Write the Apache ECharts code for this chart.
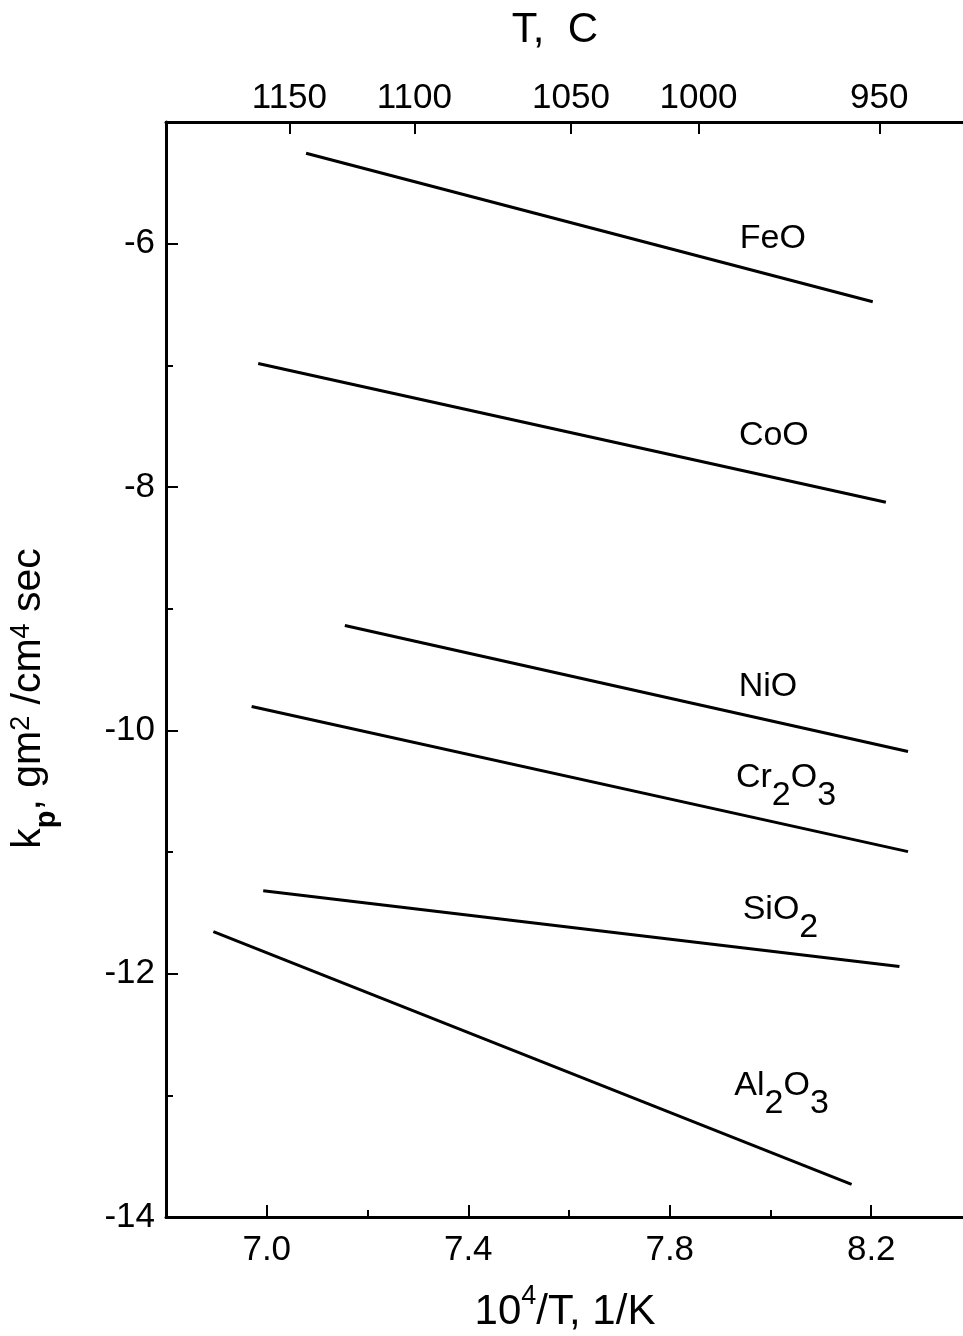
<!DOCTYPE html>
<html>
<head>
<meta charset="utf-8">
<script src="https://cdn.jsdelivr.net/npm/echarts@6/dist/echarts.min.js"></script>
<style>
  html, body { margin: 0; padding: 0; background: #fff; }
  #chart { width: 963px; height: 1336px; }
</style>
</head>
<body>
<div id="chart"></div>
<script>
// Parabolic rate constants of oxide scales: log kp vs 10^4/T
const oxides = ['FeO', 'CoO', 'NiO', 'Cr2O3', 'SiO2', 'Al2O3'];
const oxideLabels = ['{m|FeO}', '{m|CoO}', '{m|NiO}', '{m|Cr}{s|2}{m|O}{s|3}', '{m|SiO}{s|2}', '{m|Al}{s|2}{m|O}{s|3}'];

// endpoints of each fitted line: [10^4/T (1/K), log kp]
const FeO   = [[7.078, -5.257], [8.203, -6.478]];
const CoO   = [[6.983, -6.985], [8.229, -8.126]];
const NiO   = [[7.155, -9.138], [8.273, -10.174]];
const Cr2O3 = [[6.970, -9.804], [8.273, -10.997]];
const SiO2  = [[6.993, -11.318], [8.256, -11.941]];
const Al2O3 = [[6.894, -11.655], [8.161, -13.731]];
const lines = [FeO, CoO, NiO, Cr2O3, SiO2, Al2O3];

// axis ticks
const xTicks = [7.0, 7.4, 7.8, 8.2];
const xMinorTicks = [7.2, 7.6, 8.0];
const yTicks = [-14, -12, -10, -8, -6];
const yMinorTicks = [-13, -11, -9, -7];
const tempLabels = ['1150', '1100', '1050', '1000', '950'];
const tempTickPos = [7.045, 7.293, 7.604, 7.857, 8.216];

// label placement relative to each line's right-hand end
const labelOffsets = [[-100, -62], [-112, -66], [-140, -64], [-122, -56], [-119, -39], [-70, -81]];

const FONT = "'Liberation Sans', Arial, Helvetica, sans-serif";
const INK = '#000';

const xRange = { min: 6.8, max: 8.4 };
const yRange = { min: -14, max: -5 };

function baseAxis(extra) {
  return Object.assign({
    type: 'value',
    splitLine: { show: false },
    axisLine: { show: true, onZero: false, lineStyle: { color: INK, width: 3 } },
  }, extra);
}

const series = lines.map((pts, i) => ({
  name: oxides[i],
  type: 'line',
  xAxisIndex: 0,
  yAxisIndex: 0,
  data: pts,
  symbol: 'circle',
  symbolSize: 0,
  showSymbol: true,
  silent: true,
  animation: false,
  lineStyle: { color: INK, width: 3 },
  itemStyle: { color: INK },
  label: {
    show: true,
    position: 'inside',
    offset: labelOffsets[i],
    align: 'center',
    verticalAlign: 'middle',
    formatter: (p) => (p.dataIndex === pts.length - 1 ? oxideLabels[i] : ''),
    rich: {
      m: { fontFamily: FONT, fontSize: 34, color: INK, lineHeight: 36, verticalAlign: 'top' },
      s: { fontFamily: FONT, fontSize: 34, color: INK, lineHeight: 70, verticalAlign: 'middle' }
    }
  }
}));

const chart = echarts.init(document.getElementById('chart'), null, { renderer: 'canvas' });
chart.setOption({
  animation: false,
  backgroundColor: '#fff',
  grid: { left: 166, top: 122, right: -9, bottom: 119, containLabel: false, outerBoundsMode: 'none' },
  xAxis: [
    baseAxis(Object.assign({}, xRange, {
      position: 'bottom',
      axisTick: { show: true, inside: true, length: 12, customValues: xTicks, lineStyle: { color: INK, width: 2 } },
      axisLabel: {
        customValues: xTicks, margin: 16, color: INK, fontFamily: FONT, fontSize: 35,
        formatter: (v) => v.toFixed(1)
      },
      name: '{m|10}{u|4}{m|/T, 1/K}',
      nameLocation: 'middle',
      nameGap: 66,
      nameTextStyle: {
        padding: [0, 8, 0, 0],
        rich: {
          m: { fontFamily: FONT, fontSize: 42, color: INK, lineHeight: 50, verticalAlign: 'bottom' },
          u: { fontFamily: FONT, fontSize: 27, color: INK, lineHeight: 27, verticalAlign: 'top' }
        }
      }
    })),
    baseAxis(Object.assign({}, xRange, {
      position: 'bottom',
      axisLine: { show: false, onZero: false },
      axisTick: { show: true, inside: true, length: 7, customValues: xMinorTicks, lineStyle: { color: INK, width: 2 } },
      axisLabel: { show: false }
    })),
    baseAxis(Object.assign({}, xRange, {
      position: 'top',
      axisTick: { show: true, inside: true, length: 12, customValues: tempTickPos, lineStyle: { color: INK, width: 2 } },
      axisLabel: {
        customValues: tempTickPos, margin: 6, color: INK, fontFamily: FONT, fontSize: 35,
        formatter: (v) => {
          const k = tempTickPos.findIndex((t) => Math.abs(t - v) < 1e-6);
          return k >= 0 ? tempLabels[k] : '';
        }
      },
      name: 'T,  C',
      nameLocation: 'middle',
      nameGap: 71,
      nameTextStyle: { fontFamily: FONT, fontSize: 42, color: INK, padding: [0, 28, 0, 0] }
    }))
  ],
  yAxis: [
    baseAxis(Object.assign({}, yRange, {
      position: 'left',
      axisTick: { show: true, inside: true, length: 12, customValues: yTicks, lineStyle: { color: INK, width: 2 } },
      axisLabel: { customValues: yTicks, margin: 11, color: INK, fontFamily: FONT, fontSize: 35 },
      name: '{m|k}{p|p}{m|, gm}{u|2}{m| /cm}{u|4}{m| sec}',
      nameLocation: 'middle',
      nameGap: 88,
      nameRotate: 90,
      nameTextStyle: {
        padding: [0, 58, 0, 0],
        rich: {
          m: { fontFamily: FONT, fontSize: 41, color: INK, lineHeight: 44, verticalAlign: 'top' },
          p: { fontFamily: FONT, fontSize: 29, fontWeight: 'bold', color: INK, lineHeight: 70, verticalAlign: 'top', padding: [24, 0, 0, 0] },
          u: { fontFamily: FONT, fontSize: 27, color: INK, lineHeight: 27, verticalAlign: 'top' }
        }
      }
    })),
    baseAxis(Object.assign({}, yRange, {
      position: 'left',
      axisLine: { show: false, onZero: false },
      axisTick: { show: true, inside: true, length: 7, customValues: yMinorTicks, lineStyle: { color: INK, width: 2 } },
      axisLabel: { show: false }
    }))
  ],
  series: series
});
</script>
</body>
</html>
